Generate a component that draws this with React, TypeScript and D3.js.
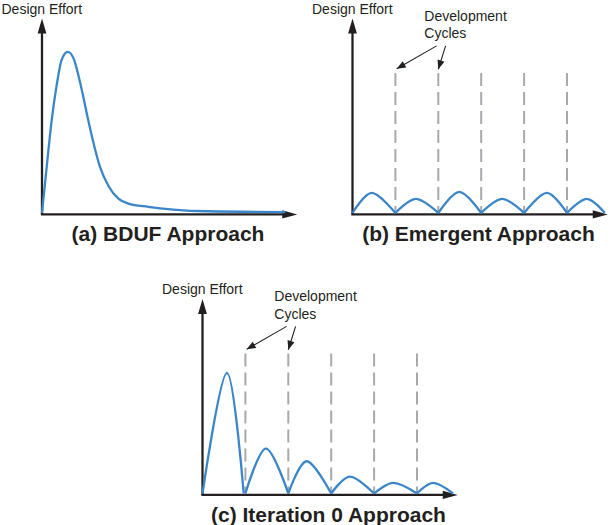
import React from 'react';
import * as d3 from 'd3';

const width = 612;
const height = 525;

// time is in development cycles, effort in % of the axis height
const bdufTime = [0, 0.11, 0.22, 0.34, 0.46, 0.6, 0.73, 0.89, 1.04, 1.16, 1.35, 1.55, 1.78, 2.01, 2.48, 3.06, 3.85, 5.67];
const bdufEffort = [0, 24, 47, 66, 79.5, 83.5, 80.4, 67.5, 52, 40, 24, 14, 7.4, 4.9, 3.2, 1.8, 0.9, 0.5];

const emergentStart = [0, 1, 2, 3, 4, 5];
const emergentEnd = [1, 2, 3, 4, 5, 5.88];
const emergentPeakTime = [0.45, 1.48, 2.49, 3.49, 4.53, 5.46];
const emergentPeakEffort = [10.4, 7.3, 10.9, 7.3, 10.4, 7.3];

const iterationStart = [0, 1, 2, 3, 4, 5];
const iterationEnd = [0.96, 2, 3, 4, 5, 5.84];
const iterationPeakTime = [0.57, 1.48, 2.43, 3.44, 4.45, 5.38];
const iterationPeakEffort = [62.5, 23.3, 16.7, 8.7, 5.5, 5.5];

const cycleMarks = [1, 2, 3, 4, 5];
const axisLabel = 'Design Effort';
const noteLines = ['Development', 'Cycles'];
const titles = ['(a) BDUF Approach', '(b) Emergent Approach', '(c) Iteration 0 Approach'];

const ink = '#231f20';
const blue = '#3a86c8';
const gray = '#a7a9ac';
const font = '"Liberation Sans", Arial, Helvetica, sans-serif';

type Pt = [number, number];

const humps = (s: number[], e: number[], pt: number[], pe: number[]): Pt[][] =>
  s.map((d, i) => [[d, 0], [pt[i], pe[i]], [e[i], 0]]);

const arrowHead = (x1: number, y1: number, x2: number, y2: number, len: number, half: number) => {
  const a = Math.atan2(y2 - y1, x2 - x1);
  const bx = x2 - len * Math.cos(a);
  const by = y2 - len * Math.sin(a);
  const nx = -Math.sin(a) * half;
  const ny = Math.cos(a) * half;
  return `${x2},${y2} ${bx + nx},${by + ny} ${bx - nx},${by - ny}`;
};

type PanelProps = {
  ox: number;
  oy: number;
  title: string;
  curves: Pt[][];
  cycles: boolean;
};

const Panel = ({ ox, oy, title, curves, cycles }: PanelProps) => {
  const x = d3.scaleLinear().domain([0, 6]).range([ox, ox + 6 * 42.9]);
  const y = d3.scaleLinear().domain([0, 100]).range([oy, oy - 193]);

  // one long curve -> monotone; separate cycle humps -> cardinal (pointed at the baseline)
  const line = d3.line<Pt>()
    .x(d => x(d[0]))
    .y(d => y(d[1]))
    .curve(cycles ? d3.curveCardinal : d3.curveMonotoneX);

  const axisY = oy + 1.4;
  const xTip = x(5.95);
  const yTip = y(100.8);

  // annotation arrows: tail -> tip, in data units
  const notes: [Pt, Pt][] = [
    [[1.96, 86.6], [1.03, 74.7]],
    [[2.17, 86.6], [2.0, 74.5]],
  ];

  return (
    <g>
      {/* axes */}
      <line x1={ox} y1={axisY} x2={ox} y2={yTip + 12} stroke={ink} strokeWidth={2.3} />
      <polygon points={arrowHead(ox, axisY, ox, yTip, 15, 4.4)} fill={ink} />
      <line x1={ox - 1.1} y1={axisY} x2={xTip - 12} y2={axisY} stroke={ink} strokeWidth={2.3} />
      <polygon points={arrowHead(ox, axisY, xTip, axisY, 15, 4.2)} fill={ink} />

      <text x={ox - 40.5} y={oy - 199.5} fontSize={14} fill={ink} fontFamily={font}>{axisLabel}</text>

      {cycles && (
        <g>
          {cycleMarks.map(c => (
            <line key={c} x1={x(c)} x2={x(c)} y1={y(72.6)} y2={y(0)}
              stroke={gray} strokeWidth={2} strokeDasharray="13 6" />
          ))}
          {noteLines.map((t, i) => (
            <text key={t} x={ox + 71.8} y={oy - 192.3 + i * 17.3} fontSize={14} fill={ink} fontFamily={font}>{t}</text>
          ))}
          {notes.map(([a, b], i) => (
            <g key={i}>
              <line x1={x(a[0])} y1={y(a[1])} x2={x(b[0])} y2={y(b[1])} stroke={ink} strokeWidth={1.1} />
              <polygon points={arrowHead(x(a[0]), y(a[1]), x(b[0]), y(b[1]), 9, 3.6)} fill={ink} />
            </g>
          ))}
        </g>
      )}

      {curves.map((c, i) => (
        <path key={i} d={line(c) ?? ''} fill="none" stroke={blue} strokeWidth={2.3} strokeLinejoin="round" />
      ))}

      <text x={ox + 126} y={oy + 28} textAnchor="middle" fontSize={21} fontWeight="bold" fill={ink} fontFamily={font}>{title}</text>
    </g>
  );
};

export default function App() {
  const bduf: Pt[] = bdufTime.map((t, i) => [t, bdufEffort[i]]);
  const emergent = humps(emergentStart, emergentEnd, emergentPeakTime, emergentPeakEffort);
  const iteration = humps(iterationStart, iterationEnd, iterationPeakTime, iterationPeakEffort);

  return (
    <svg width={width} height={height} viewBox={`0 0 ${width} ${height}`}
      style={{ position: 'absolute', left: 0, top: 0, background: '#fff' }}>
      <rect width={width} height={height} fill="#fff" />
      <Panel ox={42} oy={213} title={titles[0]} curves={[bduf]} cycles={false} />
      <Panel ox={352.5} oy={213} title={titles[1]} curves={emergent} cycles={true} />
      <Panel ox={202.5} oy={493.5} title={titles[2]} curves={iteration} cycles={true} />
    </svg>
  );
}
